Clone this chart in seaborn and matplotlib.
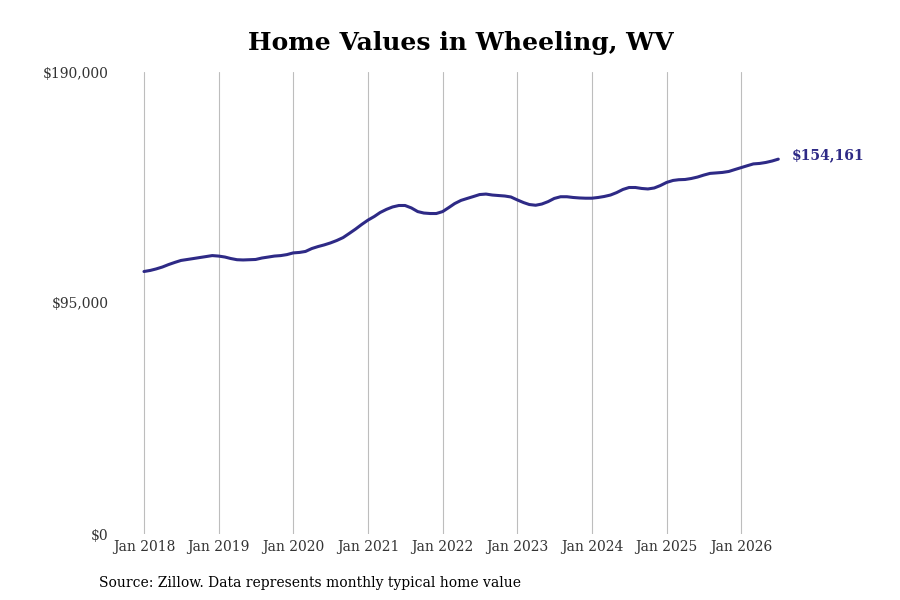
import pandas as pd
import matplotlib.pyplot as plt
import matplotlib.dates as mdates
import seaborn as sns

# Monthly typical home value, Jan 2018 - Jul 2026
values = [
    107950, 108400, 109000, 109800, 110800, 111700, 112500, 112900, 113300, 113700, 114100, 114500,
    114300, 113900, 113300, 112800, 112700, 112800, 112900, 113500, 113900, 114300, 114500, 114900,
    115600, 115800, 116200, 117400, 118200, 118900, 119700, 120700, 121900, 123600, 125400, 127300,
    129100, 130600, 132200, 133500, 134500, 135100, 135100, 134100, 132600, 132000, 131800, 131800,
    132600, 134300, 135900, 137200, 138000, 138800, 139600, 139800, 139400, 139200, 139000, 138600,
    137400, 136300, 135500, 135200, 135700, 136700, 138000, 138700, 138700, 138400, 138200, 138100,
    138100, 138400, 138800, 139400, 140400, 141700, 142500, 142500, 142100, 141900, 142300, 143300,
    144600, 145400, 145700, 145800, 146200, 146800, 147600, 148300, 148500, 148700, 149100, 149900,
    150700, 151500, 152200, 152400, 152800, 153400, 154161,
]
dates = pd.date_range("2018-01-01", periods=len(values), freq="MS")
df = pd.DataFrame({"date": dates, "value": values})

y_ticks = [0, 95000, 190000]
y_labels = ["$0", "$95,000", "$190,000"]
x_ticks = pd.date_range("2018-01-01", "2026-01-01", freq="YS")

line_color = "#2e2a86"

sns.set_style("white")
plt.rcParams["font.family"] = ["DejaVu Serif"]

fig = plt.figure(figsize=(9, 6), dpi=100)
ax = fig.add_axes([0.13, 0.11, 0.74, 0.77])

sns.lineplot(data=df, x="date", y="value", ax=ax, color=line_color, linewidth=2.2)

ax.set_ylim(0, 190000)
ax.set_xlim(pd.Timestamp("2017-08-22"), pd.Timestamp("2026-07-24"))
ax.set_yticks(y_ticks)
ax.set_yticklabels(y_labels)
ax.set_xticks(x_ticks)
ax.xaxis.set_major_formatter(mdates.DateFormatter("Jan %Y"))

ax.grid(axis="x", color="#bdbdbd", linewidth=0.8)
ax.grid(axis="y", visible=False)
for s in ax.spines.values():
    s.set_visible(False)
ax.tick_params(axis="x", length=0, labelsize=10, labelcolor="#333333", pad=4)
ax.tick_params(axis="y", length=0, labelsize=10, labelcolor="#333333", pad=6)
ax.set_xlabel("")
ax.set_ylabel("")

last = df.iloc[-1]
ax.annotate(f"${last['value']:,.0f}", xy=(last["date"], last["value"]),
            xytext=(10, 3), textcoords="offset points",
            color=line_color, fontsize=10, fontweight="bold", va="center", ha="left",
            annotation_clip=False)

fig.text(0.512, 0.928, "Home Values in Wheeling, WV", fontsize=18, fontweight="bold",
         color="black", ha="center", va="center")
fig.text(0.11, 0.022, "Source: Zillow. Data represents monthly typical home value", fontsize=10, color="black")

fig.savefig("out.png", dpi=100)
